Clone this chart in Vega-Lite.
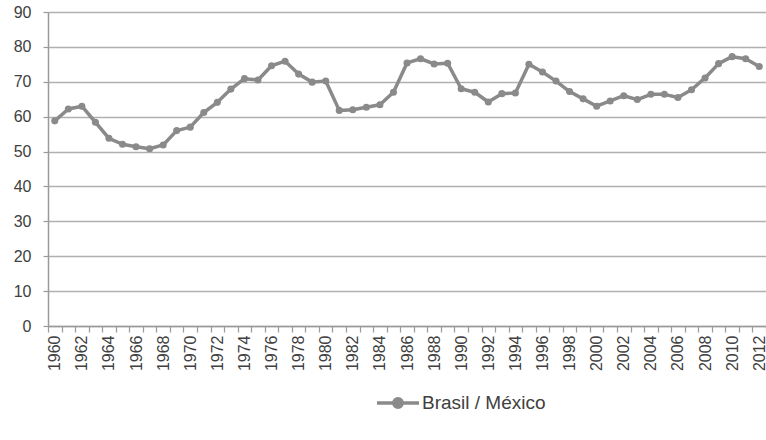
{
  "$schema": "https://vega.github.io/schema/vega-lite/v6.json",
  "autosize": "none",
  "width": 718,
  "height": 314,
  "padding": {"left": 48, "top": 12, "right": 0, "bottom": 114},
  "background": "white",
  "config": {"view": {"stroke": null}, "font": "Liberation Sans"},
  "data": {"values": [
    {"year": "1960", "value": 58.8, "series": "Brasil / México"},
    {"year": "1961", "value": 62.2, "series": "Brasil / México"},
    {"year": "1962", "value": 63.0, "series": "Brasil / México"},
    {"year": "1963", "value": 58.4, "series": "Brasil / México"},
    {"year": "1964", "value": 53.8, "series": "Brasil / México"},
    {"year": "1965", "value": 52.1, "series": "Brasil / México"},
    {"year": "1966", "value": 51.4, "series": "Brasil / México"},
    {"year": "1967", "value": 50.8, "series": "Brasil / México"},
    {"year": "1968", "value": 51.9, "series": "Brasil / México"},
    {"year": "1969", "value": 56.0, "series": "Brasil / México"},
    {"year": "1970", "value": 57.0, "series": "Brasil / México"},
    {"year": "1971", "value": 61.2, "series": "Brasil / México"},
    {"year": "1972", "value": 64.1, "series": "Brasil / México"},
    {"year": "1973", "value": 67.9, "series": "Brasil / México"},
    {"year": "1974", "value": 70.9, "series": "Brasil / México"},
    {"year": "1975", "value": 70.5, "series": "Brasil / México"},
    {"year": "1976", "value": 74.6, "series": "Brasil / México"},
    {"year": "1977", "value": 75.9, "series": "Brasil / México"},
    {"year": "1978", "value": 72.2, "series": "Brasil / México"},
    {"year": "1979", "value": 69.9, "series": "Brasil / México"},
    {"year": "1980", "value": 70.2, "series": "Brasil / México"},
    {"year": "1981", "value": 61.8, "series": "Brasil / México"},
    {"year": "1982", "value": 62.0, "series": "Brasil / México"},
    {"year": "1983", "value": 62.7, "series": "Brasil / México"},
    {"year": "1984", "value": 63.4, "series": "Brasil / México"},
    {"year": "1985", "value": 67.0, "series": "Brasil / México"},
    {"year": "1986", "value": 75.4, "series": "Brasil / México"},
    {"year": "1987", "value": 76.6, "series": "Brasil / México"},
    {"year": "1988", "value": 75.1, "series": "Brasil / México"},
    {"year": "1989", "value": 75.3, "series": "Brasil / México"},
    {"year": "1990", "value": 68.0, "series": "Brasil / México"},
    {"year": "1991", "value": 67.0, "series": "Brasil / México"},
    {"year": "1992", "value": 64.2, "series": "Brasil / México"},
    {"year": "1993", "value": 66.6, "series": "Brasil / México"},
    {"year": "1994", "value": 66.8, "series": "Brasil / México"},
    {"year": "1995", "value": 75.0, "series": "Brasil / México"},
    {"year": "1996", "value": 72.8, "series": "Brasil / México"},
    {"year": "1997", "value": 70.2, "series": "Brasil / México"},
    {"year": "1998", "value": 67.2, "series": "Brasil / México"},
    {"year": "1999", "value": 65.1, "series": "Brasil / México"},
    {"year": "2000", "value": 63.0, "series": "Brasil / México"},
    {"year": "2001", "value": 64.5, "series": "Brasil / México"},
    {"year": "2002", "value": 66.0, "series": "Brasil / México"},
    {"year": "2003", "value": 64.9, "series": "Brasil / México"},
    {"year": "2004", "value": 66.4, "series": "Brasil / México"},
    {"year": "2005", "value": 66.4, "series": "Brasil / México"},
    {"year": "2006", "value": 65.5, "series": "Brasil / México"},
    {"year": "2007", "value": 67.7, "series": "Brasil / México"},
    {"year": "2008", "value": 71.1, "series": "Brasil / México"},
    {"year": "2009", "value": 75.2, "series": "Brasil / México"},
    {"year": "2010", "value": 77.2, "series": "Brasil / México"},
    {"year": "2011", "value": 76.6, "series": "Brasil / México"},
    {"year": "2012", "value": 74.4, "series": "Brasil / México"}
  ]},
  "mark": {"type": "line", "strokeWidth": 3.5, "strokeJoin": "round", "point": {"filled": true, "size": 50}},
  "encoding": {
    "x": {
      "field": "year", "type": "ordinal",
      "scale": {"type": "band", "paddingInner": 0, "paddingOuter": 0},
      "bandPosition": 0.5,
      "axis": {
        "title": null, "tickBand": "extent", "grid": false,
        "labelExpr": "parseInt(datum.value) % 2 == 0 ? datum.value : ''",
        "labelAngle": 270, "labelAlign": "right", "labelBaseline": "middle",
        "labelFontSize": 16, "labelColor": "#404040", "labelPadding": 3,
        "domainColor": "#9a9a9a", "domainWidth": 1.5,
        "tickColor": "#9a9a9a", "tickWidth": 1.2, "tickSize": 6
      }
    },
    "y": {
      "field": "value", "type": "quantitative",
      "scale": {"domain": [0, 90], "nice": false},
      "axis": {
        "title": null, "values": [0, 10, 20, 30, 40, 50, 60, 70, 80, 90],
        "grid": true, "gridColor": "#b0b0b0", "gridWidth": 1.5,
        "domainColor": "#9a9a9a", "domainWidth": 1.5,
        "tickColor": "#9a9a9a", "tickSize": 5, "tickWidth": 1.2,
        "labelFontSize": 16, "labelColor": "#404040", "labelPadding": 12
      }
    },
    "color": {
      "field": "series", "type": "nominal",
      "scale": {"range": ["#8a8a8a"]},
      "legend": {
        "title": null, "orient": "none", "legendX": 327, "legendY": 368,
        "padding": 0,
        "symbolType": "M-1,0L1,0M0.2,0A0.2,0.2,0,1,1,-0.2,0A0.2,0.2,0,1,1,0.2,0Z",
        "symbolSize": 1764, "symbolStrokeWidth": 3.5, "symbolFillColor": "#8a8a8a", "symbolStrokeColor": "#8a8a8a",
        "labelFontSize": 19, "labelColor": "#404040", "labelOffset": 1
      }
    }
  }
}
